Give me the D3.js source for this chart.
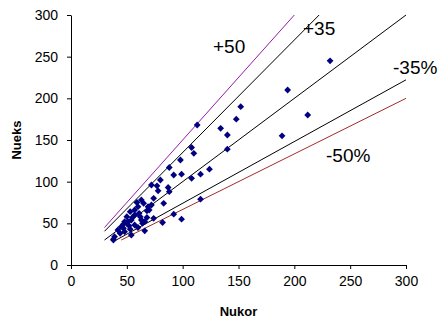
<!DOCTYPE html>
<html>
<head>
<meta charset="utf-8">
<script src="https://cdn.jsdelivr.net/npm/d3@7"></script>
<style>
  html, body { margin: 0; padding: 0; background: #fff; }
  svg { display: block; font-family: "Liberation Sans", Arial, sans-serif; }
</style>
</head>
<body>
<div id="chart"></div>
<script>
// Nukor (x) vs Nueks (y)
const nukor = [232, 194, 212, 189, 152, 148, 134, 140, 140, 113, 108, 110, 98, 88, 92, 99, 108, 116, 124, 116,
  92, 99, 82, 74, 83, 74, 88, 87, 78, 77, 80, 72, 66, 54, 38,
  57, 53, 57, 50, 54, 51, 48, 63, 66, 57, 45, 42, 44, 39, 38, 47, 60, 69, 68, 63, 65,
  50, 55, 61, 62, 52, 47, 60, 70, 72, 59, 48, 53, 64, 68];
const nueks = [245, 210, 180, 155, 190, 175, 164, 156, 139, 168, 141, 134, 126, 117, 108, 109, 104, 109, 115, 79,
  61, 55, 51, 56, 74, 80, 88, 93, 89, 95, 102, 96, 41, 36, 30,
  66, 64, 60, 58, 54, 52, 52, 54, 52, 48, 46, 42, 38, 34, 31, 44, 70, 70, 65, 78, 74,
  50, 57, 62, 58, 47, 49, 45, 66, 72, 75, 40, 43, 50, 57];

// reference lines y = k * x, drawn between 30 and 300
const lineRatios = [1.5, 1.35, 1, 1 / 1.35, 1 / 1.5];
const lineColors = ['#9a1aa8', '#000', '#000', '#000', '#a52a2a'];
const lineLabels = ['+50', '+35', '', '-35%', '-50%'];
const labelPos = [[213, 53], [303, 35], null, [393, 74], [326, 162]];

const xTicks = [0, 50, 100, 150, 200, 250, 300];
const yTicks = [0, 50, 100, 150, 200, 250, 300];

const width = 443, height = 324;
const margin = { top: 15, right: 37, bottom: 59, left: 71 };

const svg = d3.select('#chart').append('svg')
  .attr('width', width)
  .attr('height', height);

const x = d3.scaleLinear().domain([0, 300]).range([margin.left, width - margin.right]);
const y = d3.scaleLinear().domain([0, 300]).range([height - margin.bottom, margin.top]);

// reference lines
const lineData = lineRatios.map((k, i) => {
  const x0 = k >= 1 ? 30 : 30 / k;
  const x1 = k >= 1 ? 300 / k : 300;
  return { pts: [[x0, k * x0], [x1, k * x1]], color: lineColors[i] };
});
svg.append('g')
  .selectAll('path')
  .data(lineData)
  .join('path')
  .attr('d', d => d3.line().x(p => x(p[0])).y(p => y(p[1]))(d.pts))
  .attr('fill', 'none')
  .attr('stroke', d => d.color)
  .attr('stroke-width', 1);

// axes
const xAxis = svg.append('g')
  .attr('transform', `translate(0,${y(0)})`)
  .call(d3.axisBottom(x).tickValues(xTicks).tickSize(4).tickSizeOuter(0).tickPadding(7));
const yAxis = svg.append('g')
  .attr('transform', `translate(${x(0)},0)`)
  .call(d3.axisLeft(y).tickValues(yTicks).tickSize(4).tickSizeOuter(0).tickPadding(9));
[xAxis, yAxis].forEach(a => {
  a.select('.domain').attr('stroke', '#000');
  a.selectAll('.tick line').attr('stroke', '#000');
  a.selectAll('.tick text')
    .attr('fill', '#000')
    .style('font-family', '"Liberation Sans", Arial, sans-serif')
    .style('font-size', '14px');
});

// points
svg.append('g')
  .selectAll('path')
  .data(nukor.map((v, i) => [v, nueks[i]]))
  .join('path')
  .attr('d', d3.symbol(d3.symbolSquare, 23))
  .attr('transform', d => `translate(${x(d[0])},${y(d[1])}) rotate(45)`)
  .attr('fill', '#000080');

// line labels
svg.append('g')
  .selectAll('text')
  .data(lineLabels.map((t, i) => ({ t, p: labelPos[i] })).filter(d => d.t))
  .join('text')
  .attr('x', d => d.p[0])
  .attr('y', d => d.p[1])
  .text(d => d.t)
  .style('font-size', '19px')
  .attr('fill', '#000');

// axis titles
svg.append('text')
  .attr('x', (x(0) + x(300)) / 2)
  .attr('y', 316)
  .attr('text-anchor', 'middle')
  .style('font-size', '13px')
  .style('font-weight', 'bold')
  .text('Nukor');
svg.append('text')
  .attr('transform', `translate(21,${(y(0) + y(300)) / 2}) rotate(-90)`)
  .attr('text-anchor', 'middle')
  .style('font-size', '13px')
  .style('font-weight', 'bold')
  .text('Nueks');
</script>
</body>
</html>
